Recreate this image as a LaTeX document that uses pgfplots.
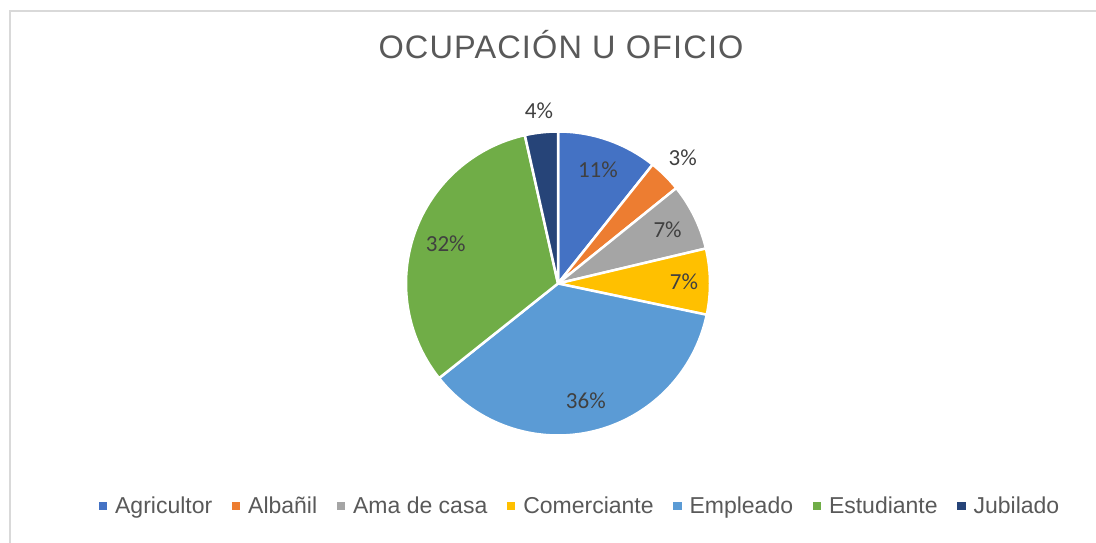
\documentclass[border=0pt]{standalone}
\usepackage{fontspec}
\setmainfont{Liberation Sans}
\newfontfamily\calibri{Carlito}
\newfontfamily\titlefont[LetterSpace=3.5]{Liberation Sans}
\usepackage{pgfplots}
\usepackage{pgfplotstable}
\pgfplotsset{compat=1.18}
\definecolor{cAgr}{HTML}{4472C4}
\definecolor{cAlb}{HTML}{ED7D31}
\definecolor{cAma}{HTML}{A5A5A5}
\definecolor{cCom}{HTML}{FFC000}
\definecolor{cEmp}{HTML}{5B9BD5}
\definecolor{cEst}{HTML}{70AD47}
\definecolor{cJub}{HTML}{264478}
\definecolor{tgray}{HTML}{595959}
\definecolor{labcol}{HTML}{404040}
\definecolor{framecol}{HTML}{D9D9D9}

\pgfplotstableread[col sep=comma]{
name,value,label,dist,color
Agricultor,10.7,11,121,cAgr
Albañil,3.5,3,177,cAlb
Ama de casa,7.1,7,122,cAma
Comerciante,7.0,7,126,cCom
Empleado,36.0,36,121,cEmp
Estudiante,32.2,32,119,cEst
Jubilado,3.5,4,174,cJub
}\piedata

\newcommand\labfont{\calibri\fontsize{23}{27}\selectfont}
\newcommand\cx{558}
\newcommand\cy{259.5}
\newcommand\rad{152}

\begin{document}
\begin{tikzpicture}
\begin{axis}[
  width=1096pt, height=543pt, scale only axis,
  xmin=0, xmax=1096, ymin=0, ymax=543,
  hide axis, clip=false,
  legend columns=-1,
  legend style={draw=none, fill=none, inner sep=0pt, outer sep=0pt,
    at={(axis cs:579,37.5)}, anchor=center,
    font=\fontsize{23}{27}\selectfont, text=tgray,
    nodes={inner xsep=0pt, inner ysep=1pt},
    /tikz/every odd column/.append style={column sep=8.6pt},
    /tikz/every even column/.append style={column sep=19.5pt}},
]
\path (rel axis cs:0,0) coordinate (LL) (rel axis cs:1,1) coordinate (UR);
\pgfmathsetmacro\cum{0}
\pgfplotsforeachungrouped \i in {0,...,6}{%
  \pgfplotstablegetelem{\i}{value}\of\piedata \let\val\pgfplotsretval
  \pgfplotstablegetelem{\i}{color}\of\piedata \let\col\pgfplotsretval
  \pgfplotstablegetelem{\i}{label}\of\piedata \let\lab\pgfplotsretval
  \pgfplotstablegetelem{\i}{dist}\of\piedata \let\dst\pgfplotsretval
  \pgfmathsetmacro\a{3.6*\cum}%
  \pgfmathsetmacro\b{3.6*(\cum+\val)}%
  \pgfmathsetmacro\m{(\a+\b)/2}%
  \pgfmathsetmacro\lx{\cx+\dst*sin(\m)}%
  \pgfmathsetmacro\ly{\cy+\dst*cos(\m)}%
  \edef\temp{%
    \noexpand\addplot[fill=\col, draw=white, line width=2.5pt, line join=round,
      domain=\a:\b, samples=90, forget plot]
      ({\cx+\rad*sin(x)},{\cy+\rad*cos(x)}) -- (axis cs:\cx,\cy) -- cycle;
    \noexpand\node[font=\noexpand\labfont, text=labcol] at (axis cs:\lx,\ly) {\lab\noexpand\%};
  }\temp
  \pgfmathsetmacro\cum{\cum+\val}%
}
\pgfplotsforeachungrouped \i in {0,...,6}{%
  \pgfplotstablegetelem{\i}{color}\of\piedata \let\col\pgfplotsretval
  \pgfplotstablegetelem{\i}{name}\of\piedata \let\nm\pgfplotsretval
  \edef\temp{%
    \noexpand\addlegendimage{legend image code/.code={\noexpand\fill[\col] (0pt,-3.7pt) rectangle (7.4pt,3.7pt);}}
    \noexpand\addlegendentry{\nm}
  }\temp
}
\node[anchor=base, font=\titlefont\fontsize{32.5}{38}\selectfont, text=tgray] at (axis cs:561,484) {OCUPACIÓN U OFICIO};
\draw[framecol, line width=1.5pt] (axis cs:10,-5) -- (axis cs:10,532) -- (axis cs:1105,532);
\end{axis}
\pgfresetboundingbox
\path[use as bounding box] (LL) rectangle (UR);
\end{tikzpicture}
\end{document}
